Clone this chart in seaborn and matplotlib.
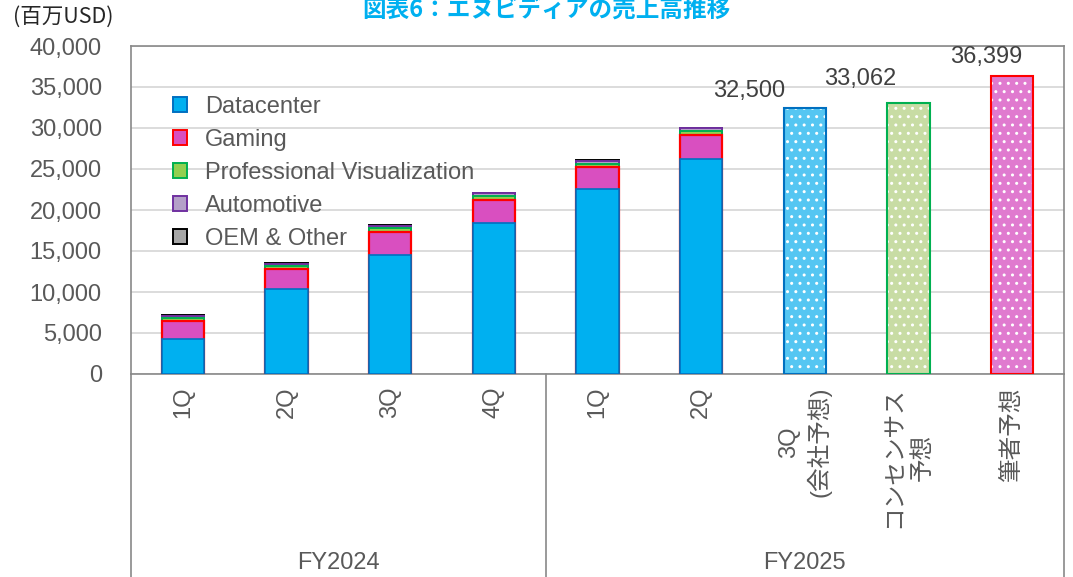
import numpy as np
import matplotlib.pyplot as plt
import matplotlib.transforms as mtransforms
from matplotlib.patches import Patch
from matplotlib.ticker import StrMethodFormatter
import pandas as pd
import seaborn as sns

# categories (unique keys) and the labels shown under the axis
periods = ["FY24-1Q", "FY24-2Q", "FY24-3Q", "FY24-4Q", "FY25-1Q", "FY25-2Q",
           "FY25-3Q-guide", "consensus", "author"]
tick_labels = ["1Q", "2Q", "3Q", "4Q", "1Q", "2Q",
               "3Q\n(会社予想)", "コンセンサス\n予想", "筆者予想"]
fiscal_years = ["FY2024", "FY2025"]
fy_sizes = [4, 5]

# actual quarterly revenue by segment (million USD)
actual_periods = periods[:6]
datacenter = [4284, 10323, 14514, 18404, 22563, 26272]
gaming = [2240, 2486, 2856, 2865, 2647, 2880]
pro_viz = [295, 379, 416, 463, 427, 454]
automotive = [296, 253, 261, 281, 329, 346]
oem_other = [77, 66, 73, 90, 78, 88]

# forecasts for FY2025 3Q
forecast_periods = periods[6:]
forecast = [32500, 33062, 36399]

segments = ["Datacenter", "Gaming", "Professional Visualization", "Automotive", "OEM & Other"]
seg_values = [datacenter, gaming, pro_viz, automotive, oem_other]
seg_face = ["#00B0F0", "#D94FC0", "#92D050", "#B4A0C8", "#A6A6A6"]
seg_edge = ["#0070C0", "#FF0000", "#00B050", "#7030A0", "#000000"]
seg_lw = [1.2, 1.6, 1.4, 1.4, 1.4]

fc_face = {"FY25-3Q-guide": "#55C6F2", "consensus": "#C8DCA4", "author": "#E07ACF"}
fc_edge = {"FY25-3Q-guide": "#0070C0", "consensus": "#00B050", "author": "#FF0000"}
label_offsets = [(-40, 12), (-35, 17.5), (-19, 13)]  # points, from bar top

sns.set_theme(style="white")
plt.rcParams["font.family"] = ["Liberation Sans", "Noto Sans CJK JP"]
plt.rcParams["hatch.linewidth"] = 1.0

grey = "#595959"
fig = plt.figure(figsize=(10.73, 5.77), dpi=100)
ax = fig.add_axes([131 / 1073, 1 - 374 / 577, 933 / 1073, 328 / 577])

# stacked bars: draw cumulative totals from the top segment down
cum = np.cumsum(np.array(seg_values), axis=0)
for i in reversed(range(len(segments))):
    sns.barplot(x=actual_periods, y=cum[i], order=periods, color=seg_face[i],
                edgecolor=seg_edge[i], linewidth=seg_lw[i], width=0.41,
                saturation=1, errorbar=None, ax=ax, zorder=3)

fc = pd.DataFrame({"period": forecast_periods, "value": forecast})
sns.barplot(data=fc, x="period", y="value", hue="period", order=periods,
            palette=fc_face, edgecolor="white", linewidth=0, hatch="..",
            width=0.41, saturation=1, errorbar=None, legend=False, ax=ax, zorder=3)
sns.barplot(data=fc, x="period", y="value", hue="period", order=periods,
            palette=fc_edge, fill=False, linewidth=1.5,
            width=0.41, saturation=1, errorbar=None, legend=False, ax=ax, zorder=4)

for p, v, (dx, dy) in zip(forecast_periods, forecast, label_offsets):
    ax.annotate(f"{v:,}", xy=(periods.index(p), v), xytext=(dx, dy),
                textcoords="offset points", ha="center", va="center",
                fontsize=17, color="#404040", zorder=5)

ax.set_xlim(-0.5, len(periods) - 0.5)
ax.set_ylim(0, 40000)
ax.set_yticks(np.arange(0, 40001, 5000))
ax.yaxis.set_major_formatter(StrMethodFormatter("{x:,.0f}"))
ax.set_xticks(range(len(periods)))
ax.set_xticklabels(tick_labels, rotation=90, va="top", ha="center",
                   multialignment="center", linespacing=1.35)
ax.tick_params(axis="y", length=0, pad=21, labelsize=17, labelcolor=grey)
ax.tick_params(axis="x", length=0, pad=9, labelsize=17, labelcolor=grey)
ax.set_xlabel("")
ax.set_ylabel("")
ax.yaxis.grid(True, color="#D9D9D9", lw=1.3)
ax.set_axisbelow(True)
for s in ax.spines.values():
    s.set_color("#898989")
    s.set_linewidth(1.2)

# fiscal year groups below the quarter labels
trans = mtransforms.blended_transform_factory(ax.transData, ax.transAxes)
start = 0
ax.plot([start - 0.5, start - 0.5], [0, -0.7], color="#898989", lw=1.2,
        transform=trans, clip_on=False)
for fy, n in zip(fiscal_years, fy_sizes):
    end = start + n - 1
    ax.text((start + end) / 2, -0.576, fy, transform=trans, ha="center",
            va="center", fontsize=17, color=grey)
    ax.plot([end + 0.5, end + 0.5], [0, -0.7], color="#898989", lw=1.2,
            transform=trans, clip_on=False)
    start = end + 1

handles = [Patch(facecolor=f, edgecolor=e, linewidth=1.4)
           for f, e in zip(seg_face, seg_edge)]
ax.legend(handles, segments, loc="upper left", bbox_to_anchor=(0.045, 0.848),
          frameon=False, fontsize=17, labelcolor=grey, handlelength=0.6,
          handleheight=0.6, handletextpad=0.75, labelspacing=0.47,
          borderpad=0, borderaxespad=0)

fig.text(546 / 1073, 1 - 11 / 577, "図表6：エヌビディアの売上高推移",
         family=["Noto Sans CJK JP"], fontweight="bold", fontsize=17,
         color="#00B0F0", ha="center", va="center")
fig.text(13 / 1073, 1 - 17 / 577, "(百万USD)", family=["Noto Sans CJK JP"],
         fontsize=15.5, color="#262626", ha="left", va="center")

fig.savefig("out.png", dpi=100)
